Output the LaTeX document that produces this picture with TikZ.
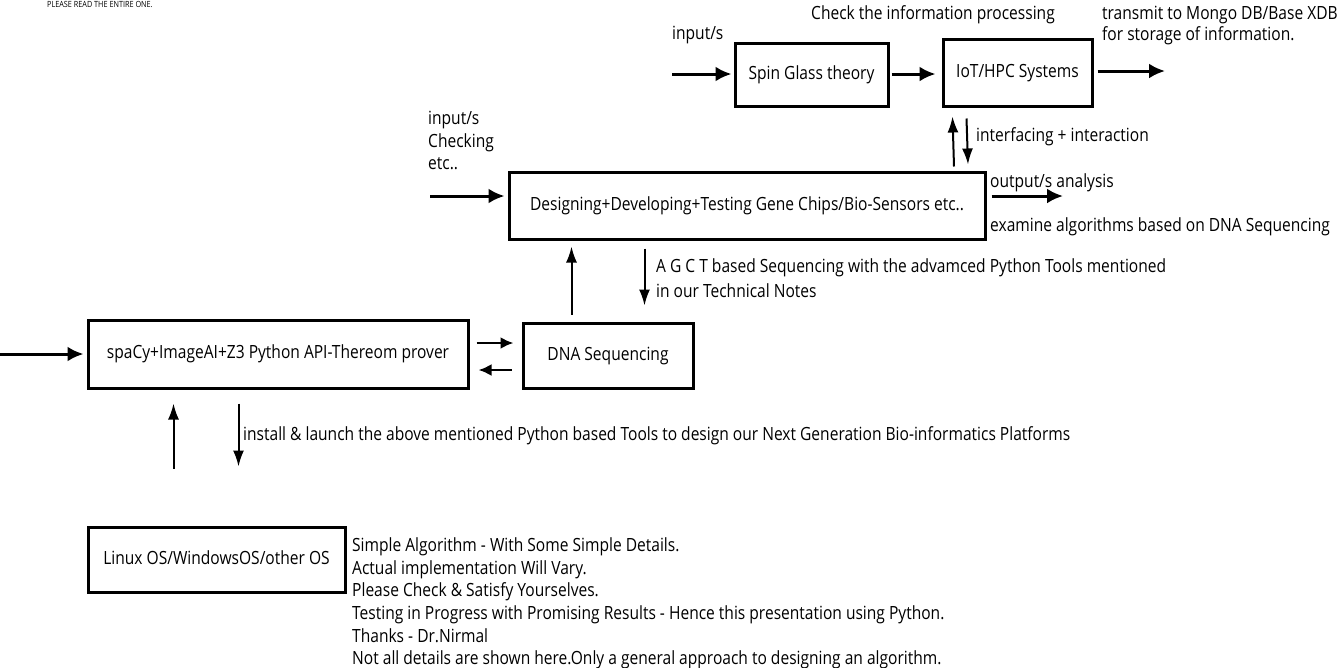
\documentclass[tikz,border=0pt]{standalone}
\usepackage{fontspec}
\setmainfont{Open Sans}[FakeStretch=0.855]
\usetikzlibrary{arrows.meta,calc}

\begin{document}
\begin{tikzpicture}[x=1pt,y=-1pt,
  txt/.style={font=\fontsize{18.2}{22.6}\selectfont, text height=13.5pt, text depth=4pt},
  box/.style={txt, draw, line width=3pt, inner sep=0pt},
  lbl/.style={txt, inner sep=0pt, anchor=west},
  heavy/.style={line width=3pt, -{Latex[length=16pt,width=15pt]}},
  medium/.style={line width=2.5pt, -{Latex[length=13pt,width=12pt]}},
  light/.style={line width=2pt, -{Latex[length=16pt,width=11pt]}},
]
\useasboundingbox (0,0) rectangle (1338,667);

% heading along the top edge
\node[font=\fontsize{8.5}{10}\selectfont, anchor=west, inner sep=0pt] (please) at (47,4.5) {PLEASE READ THE ENTIRE ONE.};

% process boxes
\node[box, minimum width=153pt, minimum height=63pt] (spin)   at (811.5,74.5) {Spin Glass theory};
\node[box, minimum width=149pt, minimum height=67pt] (iot)    at (1017.5,72.5) {IoT/HPC Systems};
\node[box, minimum width=476pt, minimum height=67pt] (design) at (747,205.5) {Designing+Developing+Testing Gene Chips/Bio-Sensors etc..};
\node[box, minimum width=170pt, minimum height=65pt] (dna)    at (608,355.5) {DNA Sequencing};
\node[box, minimum width=380pt, minimum height=68pt] (spacy)  at (278,354) {spaCy+ImageAI+Z3 Python API-Thereom prover};
\node[box, minimum width=257pt, minimum height=65pt] (linux)  at (216.5,559.5) {Linux OS/WindowsOS/other OS};

% free labels
\node[lbl] (chk)  at (811,15) {Check the information processing};
\node[lbl] (tx1)  at (1102,15) {transmit to Mongo DB/Base XDB};
\node[lbl] (tx2)  at (1102,36) {for storage of information.};
\node[lbl] (in1)  at (672,35) {input/s};
\node[lbl] (inter) at (976,137) {interfacing + interaction};
\node[lbl] (in2a) at (428,120) {input/s};
\node[lbl] (in2b) at (428,143) {Checking};
\node[lbl] (in2c) at (428,165) {etc..};
\node[lbl] (outa) at (990,183) {output/s analysis};
\node[lbl] (exam) at (990,227) {examine algorithms based on DNA Sequencing};
\node[lbl] (agct1) at (656,268) {A G C T based Sequencing with the advamced Python Tools mentioned};
\node[lbl] (agct2) at (656,293) {in our Technical Notes};
\node[lbl] (inst) at (243,436) {install \& launch the above mentioned Python based Tools to design our Next Generation Bio-informatics Platforms};

% notes
\node[lbl] (n1) at (352,547) {Simple Algorithm - With Some Simple Details.};
\node[lbl] (n2) at (352,569.6) {Actual implementation Will Vary.};
\node[lbl] (n3) at (352,592.2) {Please Check \& Satisfy Yourselves.};
\node[lbl] (n4) at (352,614.8) {Testing in Progress with Promising Results - Hence this presentation using Python.};
\node[lbl] (n5) at (352,637.4) {Thanks - Dr.Nirmal};
\node[lbl] (n6) at (352,660) {Not all details are shown here.Only a general approach to designing an algorithm.};

% free ends of the connectors
\coordinate (spinin) at (672,74);
\coordinate (iotout) at (1165,71);
\coordinate (desin)  at (430,196);
\coordinate (desout) at (1063,196);
\coordinate (spain)  at (0,354);

% top row
\draw[heavy, shorten >=2pt] (spinin) -- (spinin -| spin.west);
\draw[heavy, shorten <=2pt, shorten >=6pt] (spin.east |- spinin) -- (iot.west |- spinin);
\draw[heavy, shorten <=4pt] (iot.east |- iotout) -- (iotout);

% between the gene chip box and the IoT box
\draw[light] ($(design.north)+(207,-4)$) -- ($(iot.south west)+(11,9)$);
\draw[light] ($(iot.south west)+(25,11)$) -- ($(design.north)+(221,-6)$);

% gene chip box in and out
\draw[heavy, shorten >=3pt] (desin) -- (desin -| design.west);
\draw[heavy, shorten <=5pt] (design.east |- desout) -- (desout);

% between DNA sequencing and the gene chip box
\draw[light] ($(dna.north west)+(50,-7)$) -- ($(design.south west)+(64,6)$);
\draw[light] ($(design.south west)+(137,8)$) -- ($(dna.north west)+(123,-16)$);

% between the Python tools and DNA sequencing
\draw[medium] ($(spacy.east)+(7,-11)$) -- ($(dna.west)+(-8,-12.5)$);
\draw[medium] ($(dna.west)+(-10,14.5)$) -- ($(spacy.east)+(9,16)$);

% input to the Python tools
\draw[heavy, shorten >=3pt] (spain) -- (spacy.west);

% between the operating system and the Python tools
\draw[light] ($(linux.north west)+(87,-57)$) -- ($(spacy.south west)+(87,14)$);
\draw[light] ($(spacy.south west)+(152,14)$) -- ($(linux.north west)+(152,-59)$);
\end{tikzpicture}
\end{document}
